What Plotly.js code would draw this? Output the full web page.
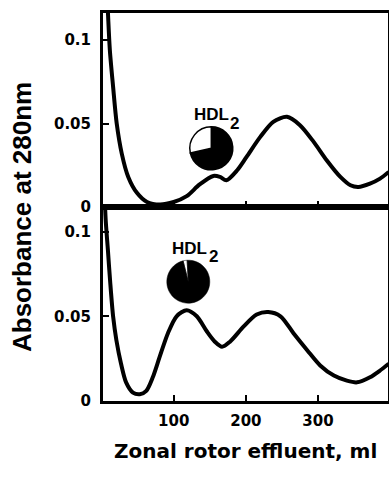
<!DOCTYPE html>
<html>
<head>
<meta charset="utf-8">
<script src="https://cdn.plot.ly/plotly-3.0.1.min.js"></script>
<style>html,body{margin:0;padding:0;background:#fff;}#chart{width:389px;height:479px;}</style>
</head>
<body>
<div id="chart"></div>
<script>
// Top panel trace (effluent ml, absorbance)
const xTop = [7, 9, 11.5, 16, 21, 28, 37, 49, 63, 81, 100, 118, 136, 155, 164, 173, 188, 201, 220, 238, 257, 275, 294, 312, 331, 345, 356, 372, 386, 398];
const yTop = [0.135, 0.115, 0.094, 0.072, 0.050, 0.032, 0.018, 0.0085, 0.003, 0.0015, 0.003, 0.0065, 0.0135, 0.0186, 0.018, 0.016, 0.022, 0.030, 0.042, 0.051, 0.054, 0.049, 0.039, 0.028, 0.018, 0.013, 0.012, 0.014, 0.017, 0.021];
// Bottom panel trace
const xBot = [4, 5.7, 8.8, 12, 16, 20.5, 27, 34, 43.5, 53, 62, 71, 80.5, 92, 104, 118, 132, 146, 157, 167, 178, 197, 215, 231, 248, 266, 285, 303, 322, 340, 354, 372, 386, 398];
const yBot = [0.125, 0.107, 0.089, 0.070, 0.050, 0.036, 0.022, 0.011, 0.005, 0.004, 0.006, 0.014, 0.026, 0.040, 0.050, 0.0536, 0.050, 0.041, 0.035, 0.032, 0.035, 0.044, 0.051, 0.0525, 0.050, 0.040, 0.030, 0.021, 0.015, 0.012, 0.011, 0.014, 0.018, 0.022];
// Pie insets (composition of HDL2)
const pieTopValues = [0.715, 0.285];
const pieBotValues = [0.03, 0.97];
// Ticks
const xTickVals = [100, 200, 300];
const xTickText = ['100', '200', '300'];
const yTickVals = [0, 0.05, 0.1];
const yTickText = ['0', '0.05', '0.1'];
const label = 'HDL';
const labelSub = '2';
const xTitle = 'Zonal rotor effluent, ml';
const yTitle = 'Absorbance at 280nm';

const W = 389, H = 479;
const L = 103, R = 1, T = 13, B = 78;
const pw = W - L - R, ph = H - T - B;
function px(x) { return (x - L) / pw; }
function py(y) { return (H - B - y) / ph; }

const lineStyle = {color: '#000', width: 4, shape: 'spline', smoothing: 0.8};
const traces = [
  {x: xTop, y: yTop, type: 'scatter', mode: 'lines', line: lineStyle, xaxis: 'x', yaxis: 'y', hoverinfo: 'skip'},
  {x: xBot, y: yBot, type: 'scatter', mode: 'lines', line: lineStyle, xaxis: 'x2', yaxis: 'y2', hoverinfo: 'skip'},
  {type: 'pie', values: pieTopValues, sort: false, direction: 'clockwise', rotation: 0,
   marker: {colors: ['#000', '#fff'], line: {color: '#000', width: 1.5}}, textinfo: 'none', showlegend: false, hoverinfo: 'skip',
   domain: {x: [px(189.8), px(232.8)], y: [py(169.8), py(126.8)]}},
  {type: 'pie', values: pieBotValues, sort: false, direction: 'clockwise', rotation: -14,
   marker: {colors: ['#fff', '#000'], line: {color: '#000', width: 0.5}}, textinfo: 'none', showlegend: false, hoverinfo: 'skip',
   domain: {x: [px(166.8), px(209.8)], y: [py(303.2), py(260.2)]}}
];

const tickFont = {family: 'DejaVu Sans', size: 15, color: '#000', weight: 'bold'};
function xa(showLabels, anchor) {
  return {domain: [0, 1], anchor: anchor, range: [2, 397], tickmode: 'array', tickvals: xTickVals, ticktext: xTickText,
    showticklabels: showLabels, ticks: 'inside', ticklen: 6, tickwidth: 2, tickcolor: '#000',
    showline: true, linewidth: 3, linecolor: '#000', mirror: true, showgrid: false, zeroline: false,
    tickfont: tickFont, ticklabelstandoff: 4, fixedrange: true};
}
function ya(domain, range, anchor) {
  return {domain: domain, anchor: anchor, range: range, tickmode: 'array', tickvals: yTickVals, ticktext: yTickText,
    ticks: 'inside', ticklen: 6, tickwidth: 2, tickcolor: '#000',
    showline: true, linewidth: 3, linecolor: '#000', mirror: true, showgrid: false, zeroline: false,
    tickfont: tickFont, ticklabelstandoff: 6, fixedrange: true};
}

const layout = {
  width: W, height: H,
  margin: {l: L, r: R, t: T, b: B},
  paper_bgcolor: '#fff', plot_bgcolor: '#fff',
  showlegend: false,
  xaxis: xa(false, 'y'),
  yaxis: ya([0.5, 1], [0, 0.1162], 'x'),
  xaxis2: xa(true, 'y2'),
  yaxis2: ya([0, 0.5], [0, 0.1145], 'x2'),
  annotations: [
    {xref: 'paper', yref: 'paper', x: px(192), y: py(115), xanchor: 'left', yanchor: 'middle', text: label, showarrow: false,
     font: {family: 'Liberation Sans', size: 17, color: '#000', weight: 'bold'}},
    {xref: 'paper', yref: 'paper', x: px(228), y: py(123), xanchor: 'left', yanchor: 'middle', text: labelSub, showarrow: false,
     font: {family: 'Liberation Sans', size: 17, color: '#000', weight: 'bold'}},
    {xref: 'paper', yref: 'paper', x: px(170), y: py(248), xanchor: 'left', yanchor: 'middle', text: label, showarrow: false,
     font: {family: 'Liberation Sans', size: 17, color: '#000', weight: 'bold'}},
    {xref: 'paper', yref: 'paper', x: px(207), y: py(256), xanchor: 'left', yanchor: 'middle', text: labelSub, showarrow: false,
     font: {family: 'Liberation Sans', size: 17, color: '#000', weight: 'bold'}},
    {xref: 'paper', yref: 'paper', x: px(245), y: py(451), xanchor: 'center', yanchor: 'middle', text: xTitle, showarrow: false,
     font: {family: 'DejaVu Sans', size: 20, color: '#000', weight: 'bold'}},
    {xref: 'paper', yref: 'paper', x: px(22), y: py(217), xanchor: 'center', yanchor: 'middle', text: yTitle, showarrow: false, textangle: -90,
     font: {family: 'Liberation Sans', size: 26, color: '#000', weight: 'bold'}}
  ]
};

Plotly.newPlot('chart', traces, layout, {staticPlot: true, displayModeBar: false});
</script>
</body>
</html>
